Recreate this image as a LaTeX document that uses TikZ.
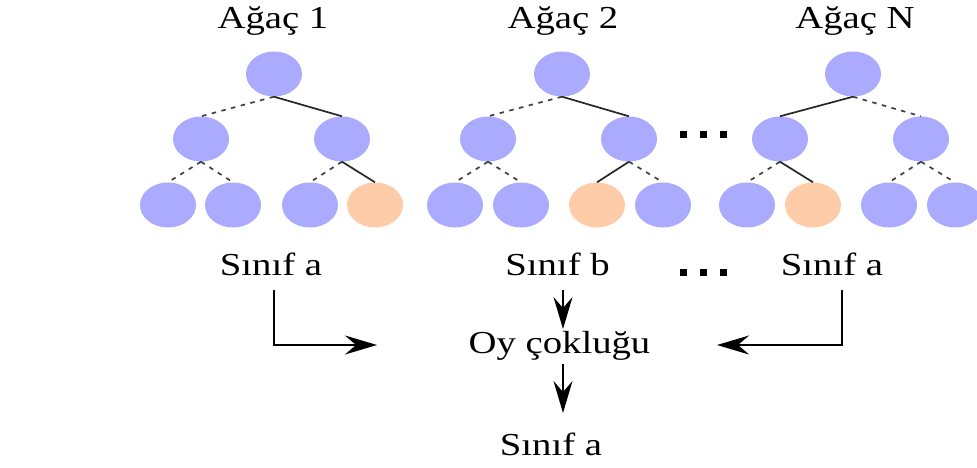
\documentclass[tikz,border=0pt]{standalone}
\usepackage{fontspec}
\setmainfont{Liberation Serif}[FakeStretch=1.21]
\usetikzlibrary{shapes.geometric,arrows.meta}
\definecolor{leafblue}{RGB}{170,170,255}
\definecolor{leaforange}{RGB}{255,204,170}
\begin{document}
\begin{tikzpicture}[x=1pt,y=-1pt,
  bn/.style={ellipse,fill=leafblue,draw=none,minimum width=56pt,minimum height=45pt,inner sep=0pt},
  on/.style={bn,fill=leaforange},
  solidedge/.style={line width=1.7pt,draw=black!85},
  dashedge/.style={line width=1.7pt,draw=black!75,dash pattern=on 4.5pt off 5.5pt},
  lbl/.style={anchor=base,inner sep=0pt,font=\fontsize{32}{38}\selectfont},
  dotsq/.style={fill=black,minimum size=7pt,inner sep=0pt,draw=none},
  arr/.style={line width=1.5pt,-{Stealth[length=32pt,width=19pt,inset=11pt]}}]
\useasboundingbox (0,0) rectangle (977,468);
% titles
\node[lbl] (t1) at (273,29) {Ağaç 1};
\node[lbl] (t2) at (563,29) {Ağaç 2};
\node[lbl] (tn) at (855,29) {Ağaç N};
% tree 1
\node[bn] (a) at (274,74) {};
\node[bn] (al) at (201,139) {};
\node[bn] (ar) at (342,139) {};
\node[bn] (a1) at (168,205) {};
\node[bn] (a2) at (233,205) {};
\node[bn] (a3) at (310,205) {};
\node[on] (a4) at (375,205) {};
\draw[dashedge] (a.south) -- (al.north);
\draw[solidedge] (a.south) -- (ar.north);
\draw[dashedge] (al.south) -- (a1.north);
\draw[dashedge] (al.south) -- (a2.north);
\draw[dashedge] (ar.south) -- (a3.north);
\draw[solidedge] (ar.south) -- (a4.north);
% tree 2
\node[bn] (b) at (562,74) {};
\node[bn] (bl) at (488,139) {};
\node[bn] (br) at (629,139) {};
\node[bn] (b1) at (455,205) {};
\node[bn] (b2) at (521,205) {};
\node[on] (b3) at (597,205) {};
\node[bn] (b4) at (663,205) {};
\draw[dashedge] (b.south) -- (bl.north);
\draw[solidedge] (b.south) -- (br.north);
\draw[dashedge] (bl.south) -- (b1.north);
\draw[dashedge] (bl.south) -- (b2.north);
\draw[solidedge] (br.south) -- (b3.north);
\draw[dashedge] (br.south) -- (b4.north);
% tree N
\node[bn] (c) at (853,74) {};
\node[bn] (cl) at (780,139) {};
\node[bn] (cr) at (921,139) {};
\node[bn] (c1) at (747,205) {};
\node[on] (c2) at (813,205) {};
\node[bn] (c3) at (889,205) {};
\node[bn] (c4) at (955,205) {};
\draw[solidedge] (c.south) -- (cl.north);
\draw[dashedge] (c.south) -- (cr.north);
\draw[dashedge] (cl.south) -- (c1.north);
\draw[solidedge] (cl.south) -- (c2.north);
\draw[dashedge] (cr.south) -- (c3.north);
\draw[dashedge] (cr.south) -- (c4.north);
% dots
\node[dotsq] (d1) at (683.5,134.5) {};
\node[dotsq] (d2) at (703.5,134.5) {};
\node[dotsq] (d3) at (723.5,134.5) {};
\node[dotsq] (e1) at (683.5,272) {};
\node[dotsq] (e2) at (703.5,272) {};
\node[dotsq] (e3) at (723.5,272) {};
% labels
\node[lbl] (s1) at (271,275) {Sınıf a};
\node[lbl] (s2) at (557.5,275) {Sınıf b};
\node[lbl] (s3) at (832,275) {Sınıf a};
\node[lbl] (oy) at (559.5,353) {Oy çokluğu};
\node[lbl] (res) at (551,455) {Sınıf a};
% connectors
\coordinate (l0) at (274,290);
\coordinate (lt) at (377,345);
\coordinate (r0) at (842,290);
\coordinate (rt) at (717,345);
\coordinate (m0) at (563,290);
\coordinate (mt) at (563,329);
\coordinate (n0) at (563,364);
\coordinate (nt) at (563,413);
\draw[arr] (l0) |- (lt);
\draw[arr] (r0) |- (rt);
\draw[arr] (m0) -- (mt);
\draw[arr] (n0) -- (nt);
\end{tikzpicture}
\end{document}
